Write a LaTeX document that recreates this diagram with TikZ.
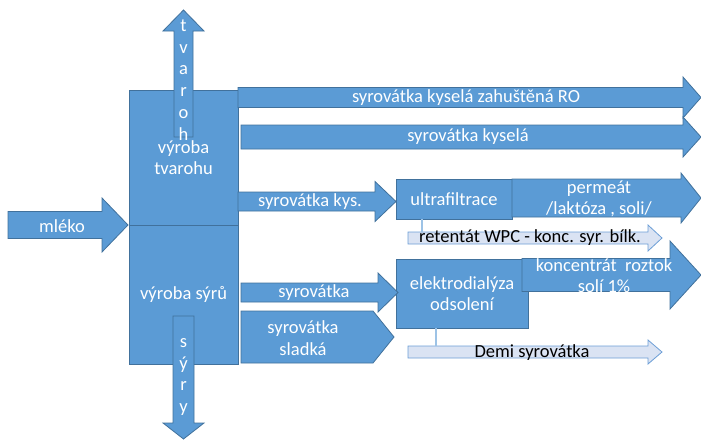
\documentclass[tikz,border=0pt]{standalone}
\usepackage{fontspec}
\setmainfont{Carlito}
\definecolor{fillblue}{HTML}{5B9BD5}
\definecolor{edgeblue}{HTML}{41719C}
\definecolor{lightfill}{HTML}{DAE3F3}
\definecolor{lightedge}{HTML}{6C9ED6}
\definecolor{connblue}{HTML}{9DC3E6}
\newcommand\rarr[7]{%
  \path[#1] (#2,#5-#6) -- (#3,#5-#6) -- (#3,#5-#7) -- (#4,#5) -- (#3,#5+#7) -- (#3,#5+#6) -- (#2,#5+#6) -- cycle;}
\tikzset{
  shapeA/.style={fill=fillblue, draw=edgeblue, line width=0.8pt, line join=miter},
  shapeL/.style={fill=lightfill, draw=lightedge, line width=0.8pt, line join=miter},
  wtext/.style={text=white, font=\fontsize{18.5}{21.5}\selectfont, align=center, inner sep=0pt},
  btext/.style={text=black, font=\fontsize{18.5}{21.5}\selectfont, align=center, inner sep=0pt},
  vtext/.style={text=white, font=\fontsize{18.5}{21.8}\selectfont, align=center, inner sep=0pt},
  conn/.style={draw=connblue, line width=1.3pt},
}
\begin{document}
\begin{tikzpicture}[x=1pt,y=-1pt]
\useasboundingbox (0,0) rectangle (701,440);
% main boxes
\node[shapeA, wtext, minimum width=109pt, minimum height=135pt] (tvbox) at (183.5,157.5) {výroba\\tvarohu};
\node[shapeA, wtext, minimum width=109pt, minimum height=139pt] (sybox) at (183.5,294.5) {výroba sýrů};
% tvaroh arrow (up)
\path[shapeA] (174,137) -- (174,31) -- (163,31) -- (183.5,10) -- (204,31) -- (193,31) -- (193,137) -- cycle;
\node[vtext] (tvaroh) at (183.5,80) {t\\v\\a\\r\\o\\h};
% syry arrow (down)
\path[shapeA] (173,316) -- (173,423) -- (163,423) -- (183.5,439) -- (204,423) -- (194,423) -- (194,316) -- cycle;
\node[vtext] (syry) at (183.5,377) {s\\ý\\r\\y};
% mleko
\rarr{shapeA}{8}{102}{128}{225}{13.5}{27}
\node[wtext] (mleko) at (62,226) {mléko};
% RO
\rarr{shapeA}{238}{683}{701}{97.5}{10}{20.5}
\node[wtext] (ro) at (466,98) {syrovátka kyselá zahuštěná RO};
% kysela
\rarr{shapeA}{241}{683}{701}{137}{12}{20}
\node[wtext] (kys) at (468,137) {syrovátka kyselá};
% kys.
\rarr{shapeA}{238}{375}{396}{201.5}{9.5}{20}
\node[wtext] (kysdot) at (310,202) {syrovátka kys.};
% ultrafiltrace
\node[shapeA, wtext, minimum width=116pt, minimum height=40pt] (uf) at (454,199) {ultrafiltrace};
% permeat
\rarr{shapeA}{512}{681}{701}{198}{19}{25}
\node[wtext] (perm) at (599,199) {permeát\\/laktóza , soli/};
% retentat
\rarr{shapeL}{408}{648}{662}{238}{6}{13}
\node[btext] (ret) at (530,238) {retentát WPC - konc. syr. bílk.};
\coordinate (rettop) at (422,232);
\draw[conn] (uf.south -| rettop) -- (rettop);
% elektrodialyza
\node[shapeA, wtext, minimum width=132pt, minimum height=69pt] (ed) at (462,293.5) {elektrodialýza\\odsolení};
% koncentrat
\rarr{shapeA}{522}{670}{701}{275}{16.5}{34}
\node[wtext] (konc) at (604,275.5) {koncentrát\ \ roztok\\solí 1\%};
% syrovatka
\rarr{shapeA}{241}{378}{398}{292.5}{9.5}{19.5}
\node[wtext] (syr) at (314,293) {syrovátka};
% syrovatka sladka
\path[shapeA] (241,311) -- (373,311) -- (394,337) -- (373,363) -- (241,363) -- cycle;
\node[wtext] (sladka) at (303,338) {syrovátka\\sladká};
% demi
\rarr{shapeL}{408}{648}{662}{352}{6}{12}
\node[btext] (demi) at (532,353) {Demi syrovátka};
\coordinate (demitop) at (436,346);
\draw[conn] (ed.south -| demitop) -- (demitop);
\end{tikzpicture}
\end{document}
